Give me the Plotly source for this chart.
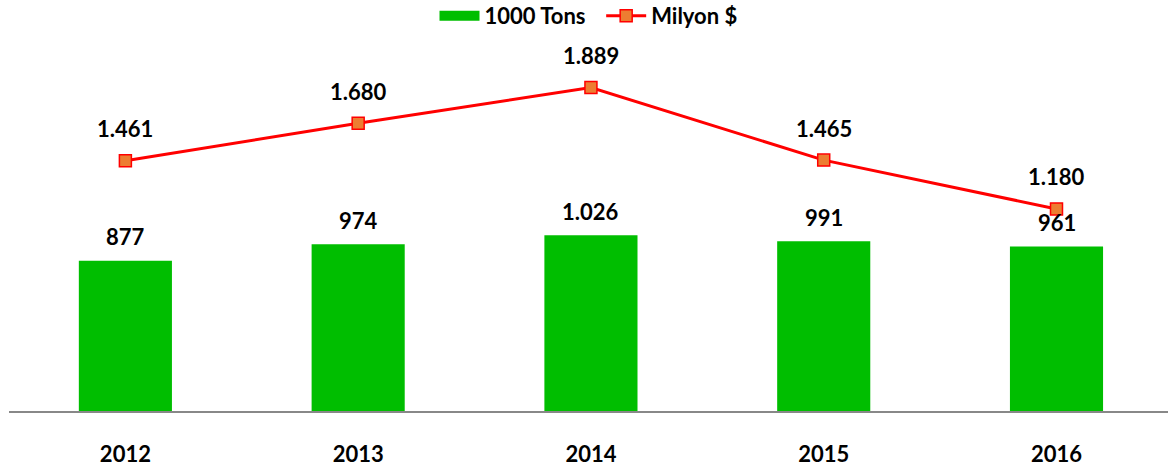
import plotly.graph_objects as go

years = ["2012", "2013", "2014", "2015", "2016"]
tons = [877, 974, 1026, 991, 961]
usd = [1461, 1680, 1889, 1465, 1180]


def fmt(v):
    return f"{v:,}".replace(",", ".")


FAM = "Lato, Open Sans, sans-serif"
GREEN = "#00BE00"

fig = go.Figure()
# legend-only entry showing a wide green swatch like the reference
fig.add_trace(go.Scatter(
    x=[None], y=[None], name="1000 Tons  ", mode="lines",
    line=dict(color=GREEN, width=16),
))
fig.add_trace(go.Bar(
    x=years, y=tons, name="1000 Tons", showlegend=False,
    marker=dict(color=GREEN, line=dict(width=0)),
    width=0.4,
))
fig.add_trace(go.Scatter(
    x=years, y=usd, name="Milyon $", mode="lines+markers",
    line=dict(color="#FF0000", width=3),
    marker=dict(symbol="square", size=12, color="#ED7D31",
                line=dict(color="#FF0000", width=1.5)),
))

font = dict(family=FAM, size=22, color="#000000")
for i, v in enumerate(tons):
    fig.add_annotation(x=i, y=v, xref="x", yref="y", text=f"<b>{fmt(v)}</b>",
                       showarrow=False, yshift=24, font=font)
for i, v in enumerate(usd):
    fig.add_annotation(x=i, y=v, xref="x", yref="y", text=f"<b>{fmt(v)}</b>",
                       showarrow=False, yshift=32, font=font)

fig.update_layout(
    width=1168, height=469,
    margin=dict(l=9, r=0, t=0, b=58, autoexpand=False),
    paper_bgcolor="white", plot_bgcolor="white",
    showlegend=True,
    legend=dict(orientation="h", x=0.5, xanchor="center", y=1.012, yanchor="top",
                font=dict(family=FAM, size=22, color="#000000", weight="bold"),
                traceorder="normal", itemwidth=40),
    bargap=0.6,
)
fig.update_xaxes(type="category", range=[-0.5, 4.479], showline=True,
                 linecolor="#888888", linewidth=1.5, ticks="", showgrid=False,
                 tickfont=dict(family=FAM, size=22, color="#000000", weight="bold"),
                 ticklabelstandoff=23)
fig.update_yaxes(range=[0, 2400], showticklabels=False, showline=False,
                 showgrid=False, zeroline=False, ticks="")

fig.write_html("out.html", config={"displayModeBar": False},
               post_script="document.body.style.margin='0';")
